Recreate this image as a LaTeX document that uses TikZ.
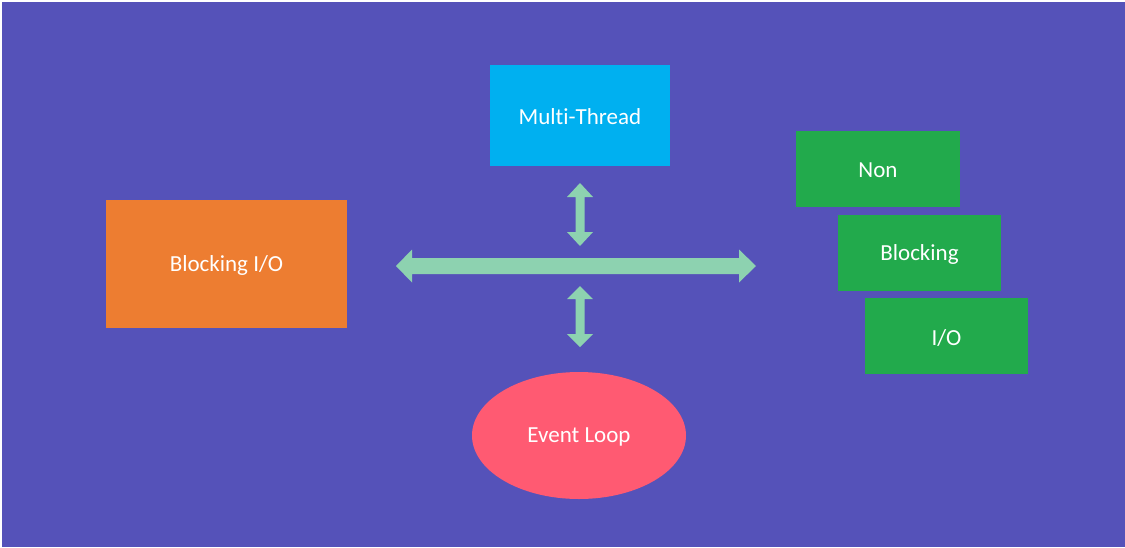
\documentclass[tikz,border=0pt]{standalone}
\usepackage{fontspec}
\setmainfont{Carlito}[Ligatures={NoCommon}]
\usetikzlibrary{shapes.geometric}
\definecolor{bgpurple}{HTML}{5552B9}
\definecolor{mtblue}{HTML}{00B0F0}
\definecolor{blkorange}{HTML}{ED7D31}
\definecolor{nbgreen}{HTML}{22AA4C}
\definecolor{evred}{HTML}{FF5A72}
\definecolor{arrgreen}{HTML}{8DD2B0}
\newcommand{\lowertext}[1]{\raisebox{-1.5pt}[\height][\depth]{#1}}
\tikzset{
  box/.style={draw=none, inner sep=0pt, text=white, font=\fontsize{23}{26}\selectfont},
  arrowshape/.style={fill=arrgreen, draw=none},
}
\begin{document}
\begin{tikzpicture}[x=1pt,y=-1pt]
\useasboundingbox (0,0) rectangle (1125,547);
\fill[white] (0,0) rectangle (1125,547);
\fill[bgpurple] (2,2) rectangle (1125,547);
% boxes
\node[box, fill=mtblue, minimum width=180pt, minimum height=101pt] (mt) at (580,115.5) {\lowertext{Multi-Thread}};
\node[box, fill=blkorange, minimum width=241pt, minimum height=128pt] (bio) at (226.5,264) {\lowertext{Blocking I/O}};
\node[box, fill=nbgreen, minimum width=164pt, minimum height=76pt] (non) at (878,169) {\lowertext{Non}};
\node[box, fill=nbgreen, minimum width=163pt, minimum height=76pt] (blk) at (919.5,253) {\lowertext{Blocking}};
\node[box, fill=nbgreen, minimum width=163pt, minimum height=76pt] (io) at (946.5,336) {\lowertext{I/O}};
\node[box, ellipse, fill=evred, minimum width=214pt, minimum height=127pt] (ev) at (579,435.5) {\lowertext{Event Loop}};
% horizontal double arrow
\coordinate (hl) at (396,266);
\coordinate (hr) at (756,266);
\fill[arrowshape] (hl) -- ++(16,-16.5) -- ++(0,8.5) -- (739,258) -- (739,249.5) -- (hr) -- (739,282.5) -- (739,274) -- (412,274) -- (412,282.5) -- cycle;
% upper vertical double arrow
\coordinate (ut) at (580,183);
\coordinate (ub) at (580,246);
\fill[arrowshape] (ut) -- (593,197) -- (584.5,197) -- (584.5,232) -- (593,232) -- (ub) -- (567,232) -- (575.5,232) -- (575.5,197) -- (567,197) -- cycle;
% lower vertical double arrow
\coordinate (lt) at (580,286);
\coordinate (lb) at (580,347);
\fill[arrowshape] (lt) -- (593,299) -- (584.5,299) -- (584.5,334) -- (593,334) -- (lb) -- (567,334) -- (575.5,334) -- (575.5,299) -- (567,299) -- cycle;
\end{tikzpicture}
\end{document}
